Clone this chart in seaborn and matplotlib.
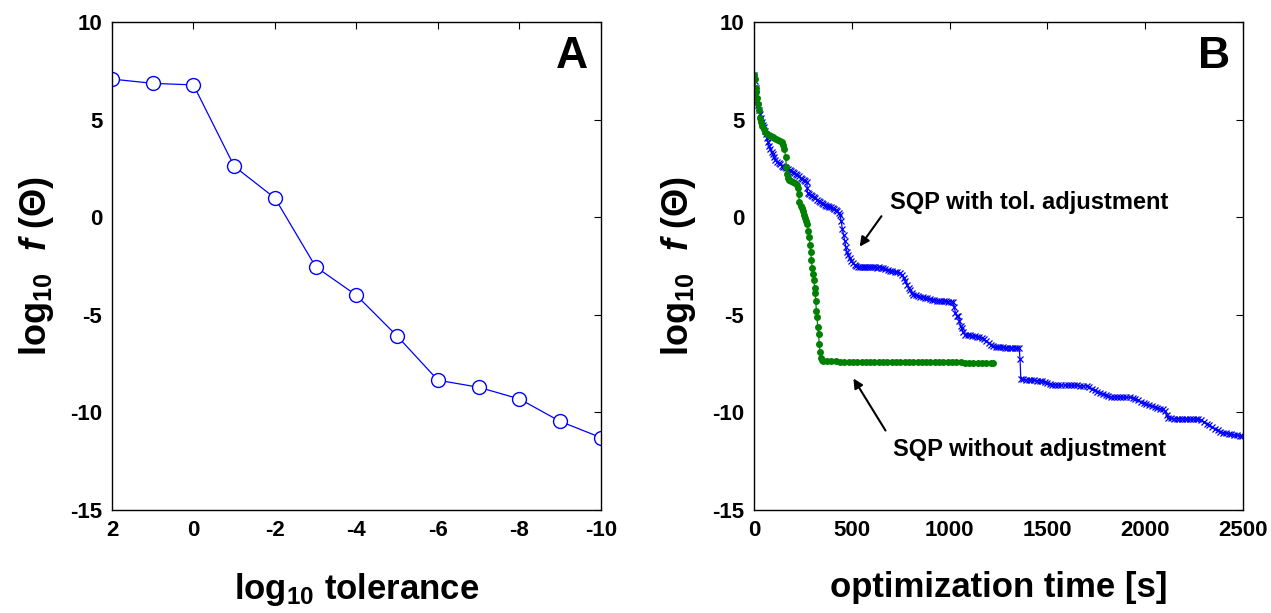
import numpy as np
import pandas as pd
import matplotlib
matplotlib.use('Agg')
import matplotlib.pyplot as plt
import seaborn as sns

# Panel A: final objective vs. integration tolerance
tol_log = [2, 1, 0, -1, -2, -3, -4, -5, -6, -7, -8, -9, -10]
f_tol = [7.08, 6.86, 6.78, 2.61, 0.98, -2.54, -4.00, -6.09, -8.35, -8.71, -9.31, -10.46, -11.29]

# Panel B: SQP without tolerance adjustment (green)
green_t = [0, 5, 8, 12, 16, 20, 25, 30, 36, 42, 50, 58, 66, 75, 85, 95, 105, 115, 125, 135,
           142, 150, 156, 162, 166, 168, 172, 180, 190, 200, 210, 218, 225, 228, 232, 238,
           244, 250, 256, 262, 268, 273, 278, 282, 286, 290, 294, 298, 302, 306, 310, 313,
           316, 319, 322, 326, 330, 334, 338, 342, 346, 352, 374, 396, 418, 440, 462, 484,
           506, 528, 550, 572, 594, 616, 638, 660, 682, 704, 726, 748, 770, 792, 814, 836,
           858, 880, 902, 924, 946, 968, 990, 1012, 1034, 1056, 1078, 1100, 1122, 1144,
           1166, 1188, 1210, 1222]
green_f = [7.3, 7.1, 6.6, 6.4, 6.1, 5.8, 5.5, 5.1, 4.9, 4.7, 4.5, 4.35, 4.25, 4.2, 4.15, 4.1,
           4.05, 4.0, 3.95, 3.9, 3.85, 3.7, 3.5, 3.1, 2.6, 2.2, 2.0, 1.9, 1.85, 1.8, 1.75, 1.65,
           1.5, 1.2, 0.8, 0.6, 0.45, 0.3, 0.1, -0.05, -0.2, -0.35, -0.7, -1.0, -1.4, -1.8, -2.2,
           -2.6, -2.9, -3.2, -3.6, -3.9, -4.3, -4.8, -5.1, -5.6, -6.0, -6.5, -6.9, -7.2, -7.33,
           -7.37, -7.38, -7.39, -7.39, -7.40, -7.40, -7.40, -7.41, -7.41, -7.41, -7.41, -7.42,
           -7.42, -7.42, -7.42, -7.42, -7.42, -7.43, -7.43, -7.43, -7.43, -7.43, -7.43, -7.43,
           -7.44, -7.44, -7.44, -7.44, -7.44, -7.44, -7.44, -7.44, -7.44, -7.45, -7.45, -7.45,
           -7.45, -7.45, -7.45, -7.45, -7.45]

# Panel B: SQP with tolerance adjustment (blue)
blue_t = [0, 4, 8, 12, 16, 20, 25, 30, 35, 40, 45, 50, 55, 60, 66, 72, 78, 84, 90, 96, 102,
          110, 118, 126, 134, 142, 150, 158, 166, 174, 182, 190, 198, 206, 214, 222, 230, 238,
          246, 254, 262, 270, 272, 274, 282, 290, 298, 306, 314, 322, 330, 338, 346, 354, 362,
          370, 378, 386, 394, 402, 410, 418, 426, 434, 440, 446, 452, 458, 464, 470, 476, 482,
          490, 498, 506, 514, 522, 530, 540, 550, 560, 570, 580, 590, 600, 610, 620, 630, 640,
          650, 660, 672, 684, 696, 708, 720, 732, 744, 756, 766, 774, 782, 790, 798, 806, 814,
          826, 838, 850, 862, 874, 886, 898, 910, 922, 934, 946, 958, 970, 982, 994, 1006,
          1018, 1024, 1030, 1036, 1044, 1050, 1056, 1062, 1070, 1080, 1092, 1104, 1116, 1128,
          1140, 1152, 1164, 1176, 1188, 1200, 1212, 1224, 1236, 1248, 1260, 1272, 1284, 1296,
          1308, 1320, 1332, 1344, 1356, 1360, 1364, 1376, 1390, 1404, 1418, 1432, 1446, 1460,
          1474, 1488, 1500, 1512, 1526, 1540, 1556, 1572, 1588, 1604, 1620, 1636, 1652, 1668,
          1684, 1700, 1714, 1728, 1742, 1756, 1770, 1784, 1798, 1812, 1826, 1840, 1856, 1872,
          1888, 1904, 1920, 1936, 1950, 1964, 1978, 1992, 2006, 2020, 2034, 2048, 2062, 2076,
          2090, 2100, 2110, 2118, 2132, 2146, 2160, 2174, 2188, 2202, 2216, 2230, 2244, 2258,
          2272, 2286, 2300, 2314, 2328, 2342, 2356, 2370, 2384, 2398, 2412, 2426, 2440, 2454,
          2468, 2482, 2496]
blue_f = [7.3, 7.0, 6.6, 6.3, 6.0, 5.75, 5.5, 5.3, 5.1, 4.9, 4.75, 4.6, 4.4, 4.25, 4.05, 3.85,
          3.65, 3.5, 3.35, 3.25, 3.1, 2.95, 2.85, 2.8, 2.75, 2.65, 2.6, 2.55, 2.5, 2.45, 2.4,
          2.35, 2.3, 2.25, 2.2, 2.15, 2.1, 2.0, 1.95, 1.9, 1.85, 1.8, 1.5, 1.25, 1.2, 1.15, 1.1,
          1.05, 1.0, 0.9, 0.85, 0.8, 0.75, 0.7, 0.65, 0.6, 0.58, 0.55, 0.5, 0.45, 0.4, 0.35,
          0.3, 0.2, 0.1, -0.2, -0.6, -0.9, -1.2, -1.55, -1.8, -1.95, -2.1, -2.25, -2.35, -2.45,
          -2.52, -2.55, -2.56, -2.56, -2.57, -2.56, -2.57, -2.57, -2.56, -2.57, -2.57, -2.58,
          -2.57, -2.58, -2.6, -2.65, -2.72, -2.75, -2.75, -2.78, -2.8, -2.85, -2.95, -3.1,
          -3.25, -3.45, -3.6, -3.75, -3.9, -3.98, -4.0, -4.05, -4.08, -4.1, -4.12, -4.15,
          -4.2, -4.22, -4.25, -4.27, -4.28, -4.3, -4.3, -4.3, -4.32, -4.32, -4.35, -4.6, -4.9,
          -5.05, -5.05, -5.3, -5.55, -5.7, -5.9, -6.02, -6.05, -6.05, -6.08, -6.1, -6.12,
          -6.15, -6.18, -6.25, -6.35, -6.45, -6.55, -6.62, -6.65, -6.66, -6.67, -6.67, -6.68,
          -6.68, -6.68, -6.68, -6.68, -6.69, -6.7, -7.25, -8.27, -8.3, -8.32, -8.33, -8.35,
          -8.36, -8.37, -8.38, -8.4, -8.45, -8.5, -8.55, -8.57, -8.58, -8.6, -8.6, -8.6, -8.6,
          -8.61, -8.62, -8.62, -8.63, -8.64, -8.65, -8.72, -8.8, -8.87, -8.93, -8.98, -9.05,
          -9.12, -9.18, -9.2, -9.2, -9.21, -9.21, -9.22, -9.22, -9.23, -9.24, -9.3, -9.38,
          -9.46, -9.54, -9.58, -9.62, -9.68, -9.72, -9.76, -9.8, -9.84, -9.95, -10.15, -10.3,
          -10.31, -10.32, -10.32, -10.33, -10.33, -10.33, -10.33, -10.34, -10.34, -10.34,
          -10.35, -10.4, -10.48, -10.58, -10.66, -10.74, -10.84, -10.92, -10.98, -11.03,
          -11.06, -11.1, -11.13, -11.15, -11.17, -11.19, -11.2]

df_a = pd.DataFrame({'tol': tol_log, 'f': f_tol})
df_green = pd.DataFrame({'t': green_t, 'f': green_f})
df_blue = pd.DataFrame({'t': blue_t, 'f': blue_f})

sns.set_style('white')
plt.rcParams['font.family'] = ['Liberation Sans', 'DejaVu Sans']
plt.rcParams['font.weight'] = 'bold'
plt.rcParams['text.color'] = 'black'
plt.rcParams['axes.labelcolor'] = 'black'
plt.rcParams['xtick.color'] = 'black'
plt.rcParams['ytick.color'] = 'black'
plt.rcParams['axes.unicode_minus'] = False
plt.rcParams['mathtext.fontset'] = 'custom'
plt.rcParams['mathtext.rm'] = 'Liberation Sans:bold'
plt.rcParams['mathtext.bf'] = 'Liberation Sans:bold'
plt.rcParams['mathtext.it'] = 'Liberation Sans:bold:italic'

fig = plt.figure(figsize=(12.71, 6.13), dpi=100)
ax_a = fig.add_axes([0.0881, 0.168, 0.3847, 0.796])
ax_b = fig.add_axes([0.5932, 0.168, 0.3848, 0.796])

sns.lineplot(data=df_a, x='tol', y='f', ax=ax_a, sort=False, estimator=None,
             color='#0000ff', lw=0.9, marker='o', markersize=10,
             markerfacecolor='white', markeredgecolor='#0000ff', markeredgewidth=1.0)

sns.lineplot(data=df_blue, x='t', y='f', ax=ax_b, sort=False, estimator=None,
             color='#0000ff', lw=0.9, marker='x', markersize=4.5,
             markeredgecolor='#0000ff', markeredgewidth=0.9)
sns.lineplot(data=df_green, x='t', y='f', ax=ax_b, sort=False, estimator=None,
             color='#008000', lw=0.9, marker='o', markersize=5,
             markeredgecolor='#008000', markeredgewidth=0)

ylabel = r'$\mathrm{log}_{10}\ \ \mathit{f}\ (\Theta)$'
for ax in (ax_a, ax_b):
    ax.set_ylim(-15, 10)
    ax.set_yticks([-15, -10, -5, 0, 5, 10])
    ax.tick_params(direction='in', length=5, width=0.8, top=True, right=True,
                   labelsize=16, pad=7, color='black', labelcolor='black')
    for lbl in ax.get_xticklabels() + ax.get_yticklabels():
        lbl.set_fontweight('bold')
    for sp in ax.spines.values():
        sp.set_visible(True)
        sp.set_color('black')
        sp.set_linewidth(1.0)
    ax.set_ylabel(ylabel, fontsize=26, labelpad=10)

ax_a.set_xlim(2, -10)
ax_a.set_xticks([2, 0, -2, -4, -6, -8, -10])
ax_a.set_xlabel(r'$\mathrm{log}_{10}$ tolerance', fontsize=25, fontweight='bold', labelpad=22)
ax_a.text(0.94, 0.93, 'A', transform=ax_a.transAxes, fontsize=32, fontweight='bold',
          ha='center', va='center')

ax_b.set_xlim(0, 2500)
ax_b.set_xticks([0, 500, 1000, 1500, 2000, 2500])
ax_b.set_xlabel('optimization time [s]', fontsize=25, fontweight='bold', labelpad=22)
ax_b.text(0.94, 0.93, 'B', transform=ax_b.transAxes, fontsize=32, fontweight='bold',
          ha='center', va='center')

ax_b.annotate('', xy=(532, -1.62), xytext=(660, 0.17),
              arrowprops=dict(arrowstyle='-|>', color='black', lw=1.5, mutation_scale=14))
ax_b.text(1406, 0.42, 'SQP with tol. adjustment', fontsize=17, fontweight='bold',
          ha='center', va='baseline')
ax_b.annotate('', xy=(501, -8.14), xytext=(680, -11.05),
              arrowprops=dict(arrowstyle='-|>', color='black', lw=1.5, mutation_scale=14))
ax_b.text(1411, -12.23, 'SQP without adjustment', fontsize=17, fontweight='bold',
          ha='center', va='baseline')

fig.savefig('out.png', dpi=100)
